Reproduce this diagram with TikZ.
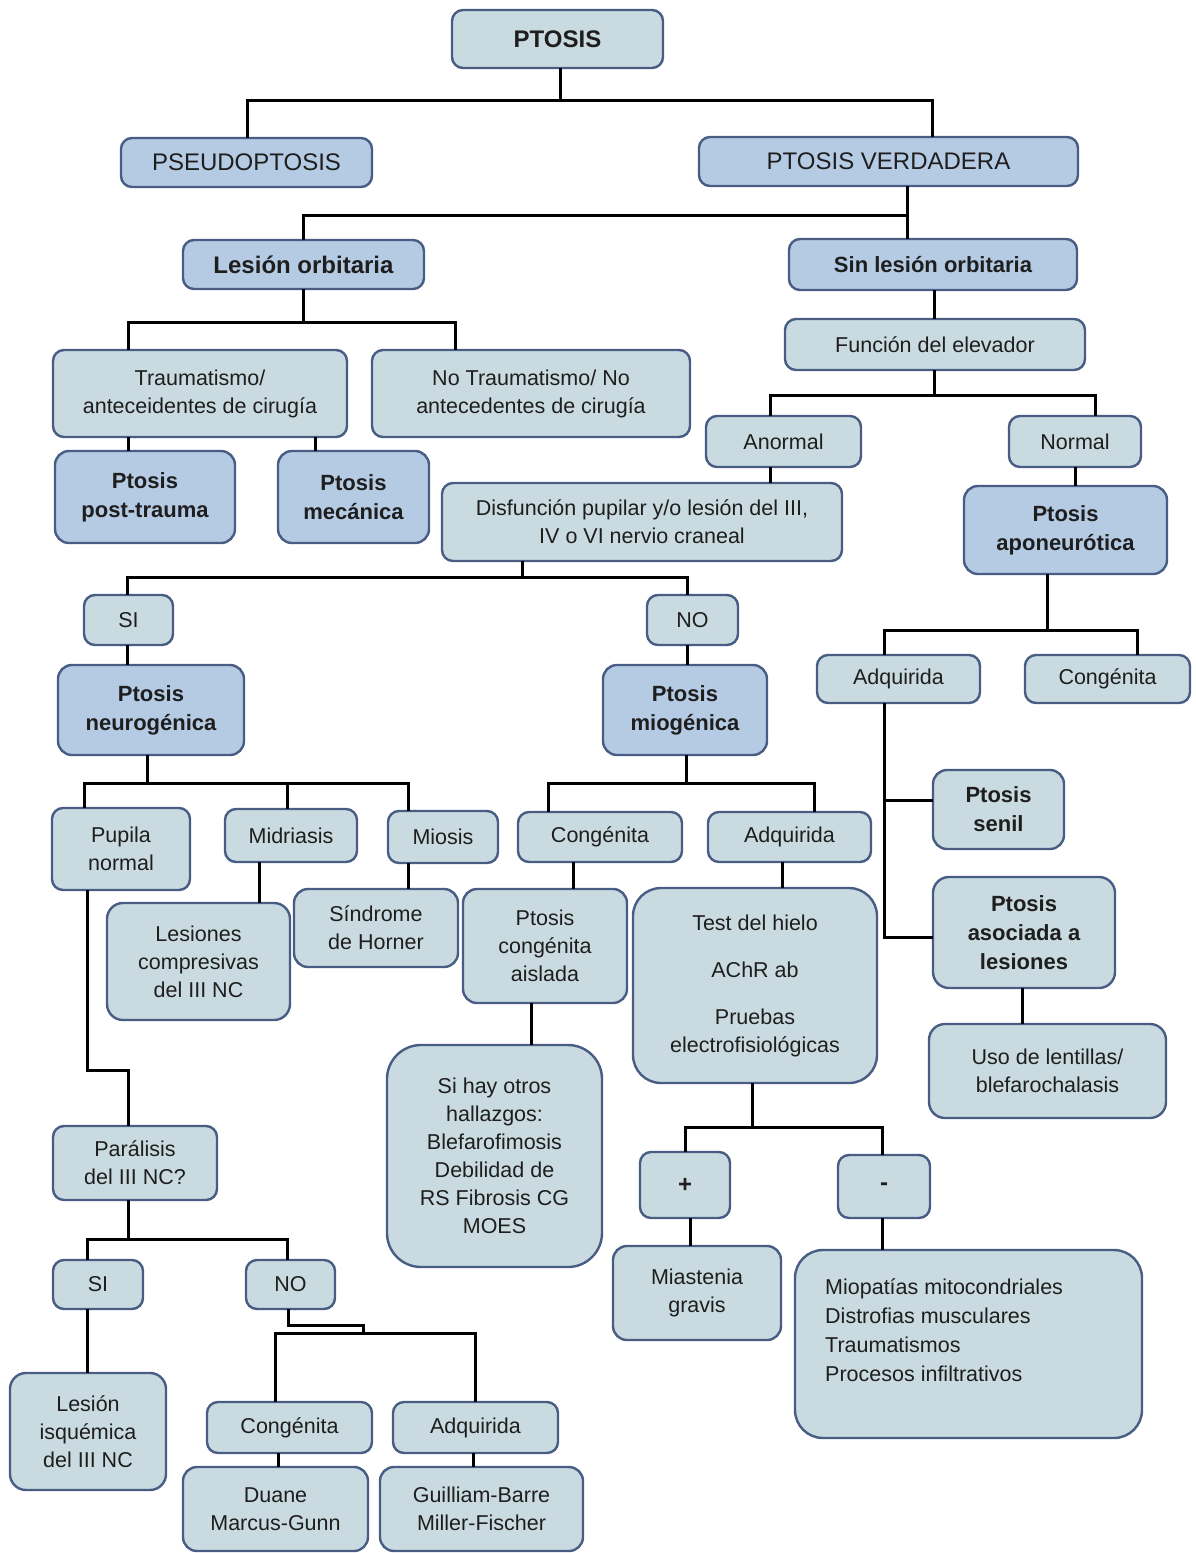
\documentclass[tikz,border=0pt]{standalone}
\usepackage{fontspec}
\setmainfont{Liberation Sans}
\definecolor{greyc}{RGB}{201,219,224}
\definecolor{bluec}{RGB}{181,203,228}
\definecolor{bordc}{RGB}{72,92,132}
\definecolor{txtc}{RGB}{30,30,30}
\newcommand\mybox[7]{\node[#1, minimum width={(#5)-(#3)}, minimum height={(#6)-(#4)}] (#2) at ({((#3)+(#5))/2},{((#4)+(#6))/2}) {#7};}
\begin{document}
\begin{tikzpicture}[x=1pt,y=-1pt,
  box/.style={draw=bordc, line width=2.4pt, rounded corners=11pt, outer sep=0pt, inner sep=2pt, align=center, text=txtc, font=\fontsize{21.5}{28}\selectfont},
  grey/.style={box, fill=greyc},
  blue/.style={box, fill=bluec},
  bf/.style={font=\fontsize{22}{29}\selectfont\bfseries},
  big/.style={font=\fontsize{24}{29}\selectfont},
  bigbf/.style={font=\fontsize{24}{29}\selectfont\bfseries},
  bigr/.style={rounded corners=28pt},
  conn/.style={line width=3pt, black}]
\useasboundingbox[fill=white] (0,0) rectangle (1195,1553);

\mybox{grey,bigbf}{ptosis}{452}{10}{663}{68}{PTOSIS}
\mybox{blue,big}{pseudo}{121}{138}{372}{187}{PSEUDOPTOSIS}
\mybox{blue,big}{verd}{699}{137}{1078}{186}{PTOSIS VERDADERA}
\mybox{blue,bigbf}{lesion}{183}{240}{424}{289}{Lesión orbitaria}
\mybox{blue,bf}{sinles}{789}{239}{1077}{290}{Sin lesión orbitaria}
\mybox{grey}{funcion}{785}{319}{1085}{370}{Función del elevador}
\mybox{grey}{traum}{53}{350}{347}{437}{Traumatismo/\\anteceidentes de cirugía}
\mybox{grey}{notraum}{372}{350}{690}{437}{No Traumatismo/ No\\antecedentes de cirugía}
\mybox{grey}{anormal}{706}{416}{861}{467}{Anormal}
\mybox{grey}{normal}{1009}{416}{1141}{467}{Normal}
\mybox{blue,bf,rounded corners=14pt}{posttr}{55}{451}{235}{543}{Ptosis\\post-trauma}
\mybox{blue,bf,rounded corners=14pt}{mecan}{278}{451}{429}{543}{Ptosis\\mecánica}
\mybox{grey}{disf}{442}{483}{842}{561}{Disfunción pupilar y/o lesión del III,\\IV o VI nervio craneal}
\mybox{blue,bf,rounded corners=14pt}{apon}{964}{486}{1167}{574}{Ptosis\\aponeurótica}
\mybox{grey}{si1}{84}{595}{173}{645}{SI}
\mybox{grey}{no1}{647}{595}{738}{645}{NO}
\mybox{grey}{adq1}{817}{655}{980}{703}{Adquirida}
\mybox{grey}{cong1}{1025}{655}{1190}{703}{Congénita}
\mybox{blue,bf,rounded corners=14pt}{neuro}{58}{665}{244}{755}{Ptosis\\neurogénica}
\mybox{blue,bf,rounded corners=14pt}{miog}{603}{665}{767}{755}{Ptosis\\miogénica}
\mybox{grey,bf,rounded corners=14pt}{senil}{933}{770}{1064}{849}{Ptosis\\senil}
\mybox{grey,bf,rounded corners=16pt}{asoc}{933}{877}{1115}{988}{Ptosis\\asociada a\\lesiones}
\mybox{grey}{pupila}{52}{808}{190}{890}{Pupila\\normal}
\mybox{grey}{midr}{225}{809}{357}{862}{Midriasis}
\mybox{grey}{miosis}{388}{811}{498}{863}{Miosis}
\mybox{grey}{congm}{518}{812}{682}{862}{Congénita}
\mybox{grey}{adqm}{708}{812}{871}{862}{Adquirida}
\mybox{grey,rounded corners=16pt}{lesc}{107}{903}{290}{1020}{Lesiones\\compresivas\\del III NC}
\mybox{grey,rounded corners=14pt}{horner}{294}{889}{458}{967}{Síndrome\\de Horner}
\mybox{grey,rounded corners=14pt}{pca}{463}{889}{627}{1003}{Ptosis\\congénita\\aislada}
\mybox{grey,bigr}{test}{633}{888}{877}{1083}{Test del hielo\\[19pt]AChR ab\\[19pt]Pruebas\\electrofisiológicas}
\mybox{grey,rounded corners=16pt}{uso}{929}{1024}{1166}{1118}{Uso de lentillas/\\blefarochalasis}
\mybox{grey,rounded corners=34pt}{sihay}{387}{1045}{602}{1267}{Si hay otros\\hallazgos:\\Blefarofimosis\\Debilidad de\\RS Fibrosis CG\\MOES}
\mybox{grey}{paral}{53}{1126}{217}{1200}{Parálisis\\del III NC?}
\mybox{grey,bigbf}{plus}{640}{1152}{730}{1218}{+}
\mybox{grey,bigbf}{minus}{838}{1155}{930}{1218}{-}
\mybox{grey,rounded corners=14pt}{miast}{613}{1246}{781}{1340}{Miastenia\\gravis}
\node[grey, bigr, minimum width=347, minimum height=188,
  label={[anchor=north west, align=left, inner sep=0pt, text=txtc, font=\fontsize{21.5}{29.3}\selectfont, xshift=30pt, yshift=-28pt]north west:{Miopatías mitocondriales\\Distrofias musculares\\Traumatismos\\Procesos infiltrativos}}]
  (miop) at (968.5,1344) {};
\mybox{grey}{si2}{53}{1260}{143}{1309}{SI}
\mybox{grey}{no2}{246}{1260}{335}{1309}{NO}
\mybox{grey,rounded corners=16pt}{isq}{10}{1373}{166}{1490}{Lesión\\isquémica\\del III NC}
\mybox{grey}{cong2}{207}{1402}{372}{1453}{Congénita}
\mybox{grey}{adq2}{393}{1402}{558}{1453}{Adquirida}
\mybox{grey,rounded corners=14pt}{duane}{183}{1467}{368}{1551}{Duane\\Marcus-Gunn}
\mybox{grey,rounded corners=14pt}{guill}{380}{1467}{583}{1551}{Guilliam-Barre\\Miller-Fischer}

% connectors
\draw[conn] (ptosis.south -| 560,0) -- (560,100);
\draw[conn] (pseudo.north -| 247,0) |- (932,100) -- (verd.north -| 932,0);
\draw[conn] (verd.south -| 907,0) -- (907,215);
\draw[conn] (lesion.north -| 303,0) |- (907,215) -- (sinles.north -| 907,0);
\draw[conn] (lesion.south -| 303,0) -- (303,322);
\draw[conn] (traum.north -| 128,0) |- (455,322) -- (notraum.north -| 455,0);
\draw[conn] (sinles.south -| 934,0) -- (funcion.north -| 934,0);
\draw[conn] (funcion.south -| 934,0) -- (934,395);
\draw[conn] (anormal.north -| 770,0) |- (1095,395) -- (normal.north -| 1095,0);
\draw[conn] (traum.south -| 128,0) -- (posttr.north -| 128,0);
\draw[conn] (traum.south -| 315,0) -- (mecan.north -| 315,0);
\draw[conn] (anormal.south -| 770,0) -- (disf.north -| 770,0);
\draw[conn] (normal.south -| 1075,0) -- (apon.north -| 1075,0);
\draw[conn] (disf.south -| 522,0) -- (522,577);
\draw[conn] (si1.north -| 127,0) |- (687,577) -- (no1.north -| 687,0);
\draw[conn] (apon.south -| 1047,0) -- (1047,630);
\draw[conn] (adq1.north -| 884,0) |- (1137,630) -- (cong1.north -| 1137,0);
\draw[conn] (adq1.south -| 884,0) |- (asoc.west |- 0,937);
\draw[conn] (884,800) -- (senil.west |- 0,800);
\draw[conn] (asoc.south -| 1022,0) -- (uso.north -| 1022,0);
\draw[conn] (si1.south -| 127,0) -- (neuro.north -| 127,0);
\draw[conn] (no1.south -| 687,0) -- (miog.north -| 687,0);
\draw[conn] (neuro.south -| 147,0) -- (147,783);
\draw[conn] (pupila.north -| 84,0) |- (408,783) -- (miosis.north -| 408,0);
\draw[conn] (287,783) -- (midr.north -| 287,0);
\draw[conn] (miog.south -| 686,0) -- (686,783);
\draw[conn] (congm.north -| 548,0) |- (814,783) -- (adqm.north -| 814,0);
\draw[conn] (midr.south -| 259,0) -- (lesc.north -| 259,0);
\draw[conn] (miosis.south -| 408,0) -- (horner.north -| 408,0);
\draw[conn] (congm.south -| 573,0) -- (pca.north -| 573,0);
\draw[conn] (adqm.south -| 782,0) -- (test.north -| 782,0);
\draw[conn] (pupila.south -| 87,0) |- (128,1070) -- (paral.north -| 128,0);
\draw[conn] (pca.south -| 531,0) -- (sihay.north -| 531,0);
\draw[conn] (test.south -| 752,0) -- (752,1127);
\draw[conn] (plus.north -| 685,0) |- (882,1127) -- (minus.north -| 882,0);
\draw[conn] (plus.south -| 690,0) -- (miast.north -| 690,0);
\draw[conn] (minus.south -| 882,0) -- (miop.north -| 882,0);
\draw[conn] (paral.south -| 128,0) -- (128,1239);
\draw[conn] (si2.north -| 87,0) |- (287,1239) -- (no2.north -| 287,0);
\draw[conn] (si2.south -| 87,0) -- (isq.north -| 87,0);
\draw[conn] (no2.south -| 288,0) |- (363,1325) |- (475,1333) -- (adq2.north -| 475,0);
\draw[conn] (cong2.north -| 275,0) |- (363,1333);
\draw[conn] (cong2.south -| 278,0) -- (duane.north -| 278,0);
\draw[conn] (adq2.south -| 473,0) -- (guill.north -| 473,0);
\end{tikzpicture}
\end{document}
